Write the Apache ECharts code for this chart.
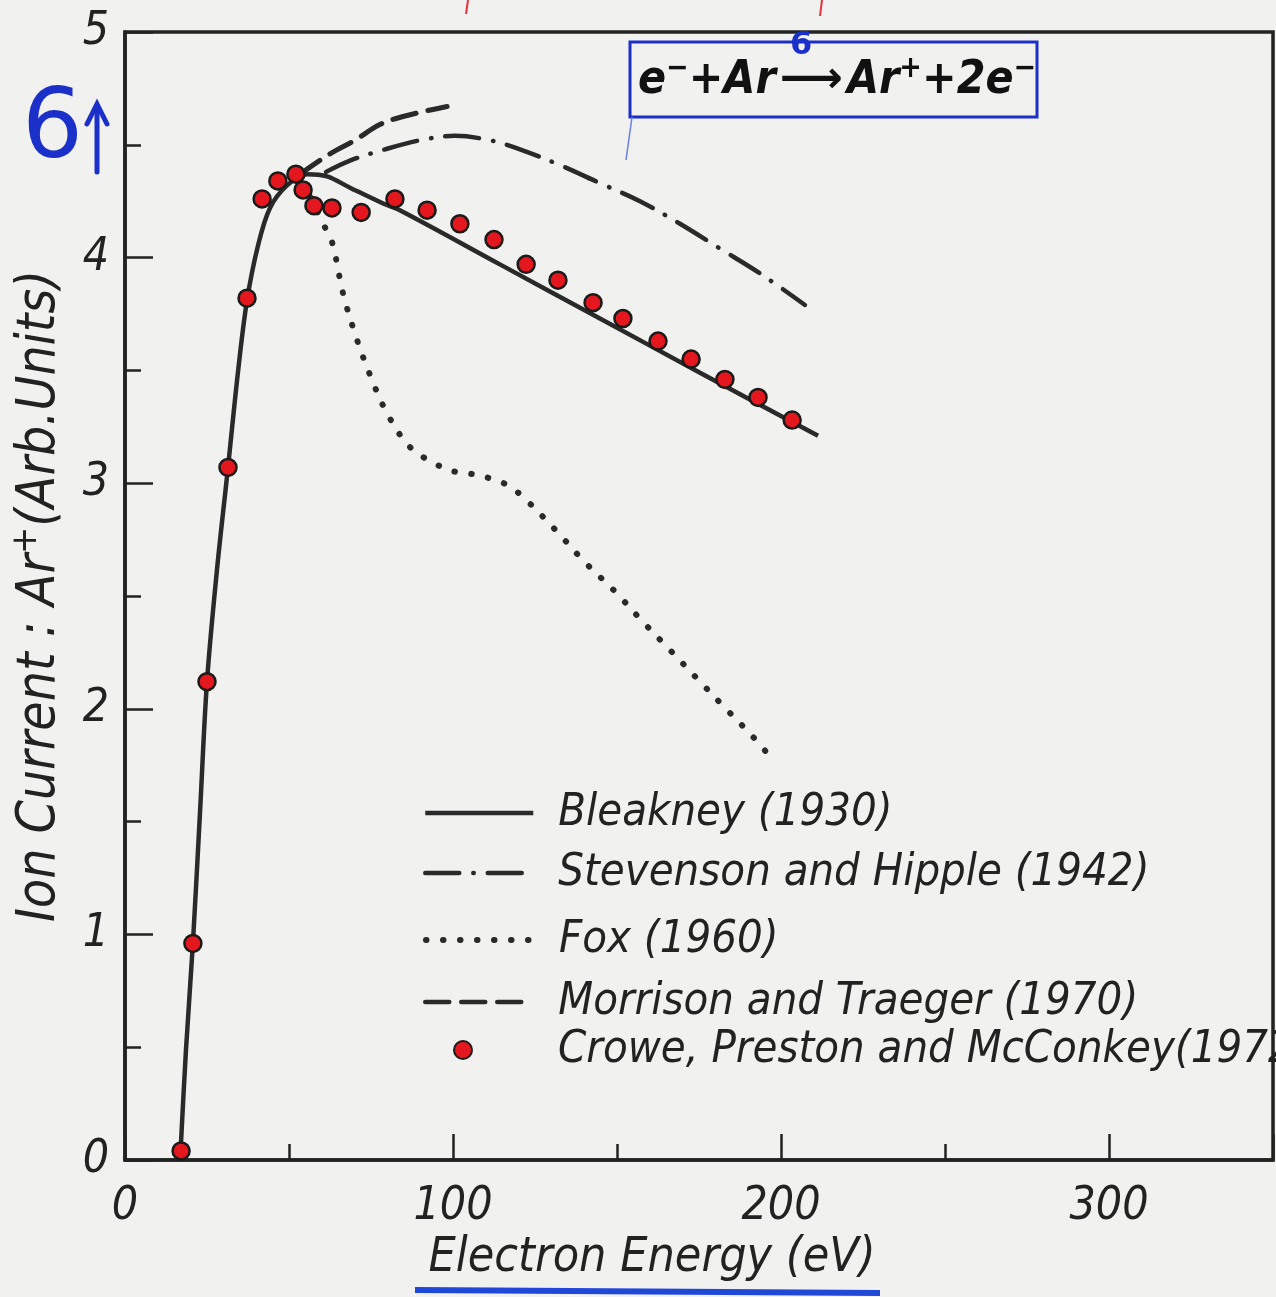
<!DOCTYPE html>
<html>
<head>
<meta charset="utf-8">
<script src="https://cdn.jsdelivr.net/npm/echarts@6/dist/echarts.min.js"></script>
<style>
html,body{margin:0;padding:0;background:#f1f1ef;}
#chart{width:1276px;height:1297px;}
</style>
</head>
<body>
<div id="chart"></div>
<script>
// ---- data ----
const xTickLabels = [0, 100, 200, 300];
const yTickLabels = [0, 1, 2, 3, 4, 5];

const bleakneyX = [16.8, 18.6, 20.7, 22.9, 25.0, 28.0, 31.4, 34.5, 37.2, 40.5, 44.2, 49.4, 55.5, 61.6, 68.6, 78.7, 83.8, 114.3, 144.8, 175.3, 211.3];
const bleakneyY = [0.00, 0.49, 0.96, 1.55, 2.12, 2.61, 3.07, 3.50, 3.81, 4.05, 4.22, 4.32, 4.37, 4.36, 4.31, 4.24, 4.21, 3.97, 3.73, 3.49, 3.21];

const stevensonX = [61.3, 68.6, 79.3, 89.9, 100.6, 111.3, 120.4, 132.6, 144.8, 157.0, 169.2, 181.4, 193.6, 207.3];
const stevensonY = [4.38, 4.43, 4.48, 4.52, 4.54, 4.52, 4.48, 4.41, 4.33, 4.25, 4.15, 4.04, 3.93, 3.79];

const foxX = [56.4, 60.4, 63.1, 66.5, 70.4, 74.7, 79.9, 86.9, 95.4, 100.9, 106.1, 111.6, 116.8, 122.0, 131.4, 140.2, 149.4, 157.6, 166.2, 174.7, 183.2, 191.2, 195.4];
const foxY = [4.27, 4.15, 4.07, 3.84, 3.65, 3.48, 3.31, 3.16, 3.08, 3.05, 3.04, 3.02, 2.99, 2.93, 2.79, 2.65, 2.52, 2.39, 2.26, 2.13, 2.00, 1.88, 1.81];

const morrisonX = [53.4, 62.5, 70.1, 77.7, 86.0, 98.2];
const morrisonY = [4.37, 4.46, 4.52, 4.59, 4.63, 4.67];

const croweX = [17.1, 20.7, 25.0, 31.4, 37.2, 41.8, 46.6, 52.1, 54.3, 57.6, 63.1, 72.0, 82.3, 92.1, 102.1, 112.5, 122.3, 132.0, 142.7, 151.8, 162.5, 172.6, 182.9, 193.0, 203.4];
const croweY = [0.04, 0.96, 2.12, 3.07, 3.82, 4.26, 4.34, 4.37, 4.30, 4.23, 4.22, 4.20, 4.26, 4.21, 4.15, 4.08, 3.97, 3.90, 3.80, 3.73, 3.63, 3.55, 3.46, 3.38, 3.28];

const seriesNames = ['Bleakney (1930)', 'Stevenson and Hipple (1942)', 'Fox (1960)', 'Morrison and Traeger (1970)', 'Crowe, Preston and McConkey(1972)'];

const pairs = (xs, ys) => xs.map((x, i) => [x, ys[i]]);

const FONT = '"DejaVu Sans", sans-serif';
const ITAL = 'italic semi-condensed';
const INK = '#222222';
const BLUE = '#1b2fc9';

const chart = echarts.init(document.getElementById('chart'), null, {renderer: 'canvas'});

const legendRows = [808, 868, 935, 997, 1045];
const legendLineWidths = [4.5, 4.5, 6, 4.5];
const legends = seriesNames.map((name, i) => {
  const isDot = i === 4;
  const lg = {
    data: [name],
    left: isDot ? 448 : 418,
    top: legendRows[i] - 28,
    itemWidth: isDot ? 88 : 108,
    itemHeight: isDot ? 18 : 14,
    selectedMode: false,
    textStyle: {
      fontFamily: FONT, fontStyle: ITAL, fontSize: 45, color: INK,
      lineHeight: 56, padding: [0, 0, 0, isDot ? 46 : 20]
    }
  };
  if (!isDot) {
    lg.itemStyle = {opacity: 0};
    lg.lineStyle = {width: legendLineWidths[i]};
  }
  return lg;
});

const lineBase = {type: 'line', symbol: 'none', smooth: 0.35, xAxisIndex: 0, yAxisIndex: 0, z: 3};

chart.setOption({
  backgroundColor: '#f1f1ef',
  animation: false,
  grid: {left: 125, top: 32, width: 1148, height: 1128, containLabel: false, outerBoundsMode: 'none',
    show: true, borderColor: INK, borderWidth: 3.5, backgroundColor: 'transparent'},
  legend: legends,
  xAxis: [{
    type: 'value', min: 0, max: 350, interval: 100,
    name: 'Electron Energy (eV)', nameLocation: 'middle', nameGap: 70,
    nameTextStyle: {fontFamily: FONT, fontStyle: ITAL, fontSize: 48, color: INK, padding: [0, 94, 0, 0]},
    axisLine: {lineStyle: {color: INK, width: 3.5}},
    axisTick: {inside: true, length: 26, lineStyle: {color: INK, width: 2.5}},
    axisLabel: {
      margin: 24, fontFamily: FONT, fontStyle: ITAL, fontSize: 46, color: INK,
      formatter: v => (xTickLabels.indexOf(v) >= 0 ? String(v) : '')
    },
    splitLine: {show: false}
  }, {
    type: 'value', min: 0, max: 350, interval: 50, position: 'bottom',
    axisLine: {show: false},
    axisTick: {inside: true, length: 16, lineStyle: {color: INK, width: 2.5}},
    axisLabel: {show: false},
    splitLine: {show: false}
  }],
  yAxis: [{
    type: 'value', min: 0, max: 5, interval: 1,
    name: 'Ion Current : Ar{sup|+}(Arb.Units)', nameLocation: 'middle', nameRotate: 90, nameGap: 54,
    nameTextStyle: {
      fontFamily: FONT, fontStyle: ITAL, fontSize: 53, color: INK,
      rich: {sup: {fontFamily: FONT, fontStyle: ITAL, fontSize: 36, color: INK, padding: [0, 0, 26, 0]}}
    },
    axisLine: {lineStyle: {color: INK, width: 3.5}},
    axisTick: {inside: true, length: 28, lineStyle: {color: INK, width: 2.5}},
    minorTick: {show: true, splitNumber: 2, length: 16, lineStyle: {color: INK, width: 2.5}},
    axisLabel: {
      margin: 16, fontFamily: FONT, fontStyle: ITAL, fontSize: 46, color: INK,
      formatter: v => (yTickLabels.indexOf(v) >= 0 ? String(v) : '')
    },
    splitLine: {show: false}
  }],
  series: [
    Object.assign({}, lineBase, {
      name: seriesNames[0], data: pairs(bleakneyX, bleakneyY),
      lineStyle: {color: '#2a2a2a', width: 4.5}, itemStyle: {color: '#2a2a2a'}
    }),
    Object.assign({}, lineBase, {
      name: seriesNames[1], data: pairs(stevensonX, stevensonY),
      lineStyle: {color: '#2a2a2a', width: 4.5, type: [34, 14, 0.5, 14], cap: 'round'}, itemStyle: {color: '#2a2a2a'}
    }),
    Object.assign({}, lineBase, {
      name: seriesNames[2], data: pairs(foxX, foxY),
      lineStyle: {color: '#2a2a2a', width: 6, type: [0.5, 16.5], cap: 'round'}, itemStyle: {color: '#2a2a2a'}
    }),
    Object.assign({}, lineBase, {
      name: seriesNames[3], data: pairs(morrisonX, morrisonY),
      lineStyle: {color: '#2a2a2a', width: 5, type: [24, 12], cap: 'round'}, itemStyle: {color: '#2a2a2a'}
    }),
    {
      type: 'scatter', name: seriesNames[4], data: pairs(croweX, croweY), z: 5,
      symbol: 'circle', symbolSize: 17,
      itemStyle: {color: '#e3171d', borderColor: '#1a1a1a', borderWidth: 2.5, opacity: 1}
    }
  ],
  graphic: [
    {type: 'rect', shape: {x: 630, y: 42, width: 407, height: 75}, style: {fill: 'none', stroke: BLUE, lineWidth: 3}, z: 10},
    {type: 'line', shape: {x1: 632, y1: 117, x2: 626, y2: 160}, style: {stroke: '#6a7fe0', lineWidth: 1.5}, z: 10},
    {type: 'text', left: 638, top: 54, z: 11, style: {
      text: 'e{sup|−}+Ar{arr|⟶}Ar{sup|+}+2e{sup|−}',
      fill: '#111', font: 'italic semi-condensed bold 46px "DejaVu Sans", sans-serif',
      rich: {
        sup: {fontSize: 30, fontWeight: 'bold', fontStyle: ITAL, fontFamily: FONT, fill: '#111', padding: [0, 0, 24, 0]},
        arr: {fontSize: 44, fontWeight: 'bold', fontFamily: FONT, fill: '#111', padding: [0, 4, 0, 4]}
      }
    }},
    {type: 'text', left: 790, top: 30, z: 12, style: {text: '6', fill: BLUE, font: 'bold 32px "DejaVu Sans", sans-serif'}},
    {type: 'text', left: 22, top: 84, z: 10, style: {text: '6', fill: BLUE, font: '96px "DejaVu Sans", sans-serif'}},
    {type: 'line', shape: {x1: 97, y1: 172, x2: 97, y2: 106}, style: {stroke: BLUE, lineWidth: 5, lineCap: 'round'}, z: 10},
    {type: 'polyline', shape: {points: [[87, 124], [97, 104], [107, 124]]}, style: {stroke: BLUE, lineWidth: 5, fill: 'none', lineCap: 'round'}, z: 10},
    {type: 'line', shape: {x1: 468, y1: 0, x2: 466, y2: 14}, style: {stroke: '#e8323a', lineWidth: 2}, z: 10},
    {type: 'line', shape: {x1: 822, y1: 0, x2: 820, y2: 16}, style: {stroke: '#e8323a', lineWidth: 2}, z: 10},
    {type: 'line', shape: {x1: 415, y1: 1290, x2: 880, y2: 1293}, style: {stroke: '#2048d8', lineWidth: 6}, z: 10}
  ]
});
</script>
</body>
</html>
